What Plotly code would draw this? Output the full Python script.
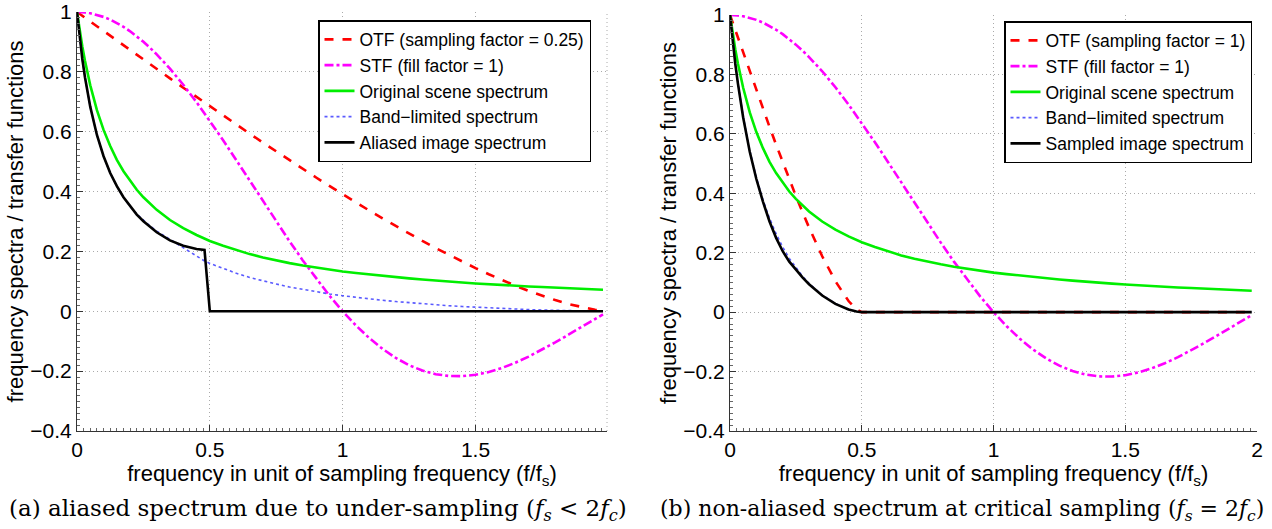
import plotly.graph_objects as go

# frequency in units of the sampling frequency (f/fs)
freq = [0, 0.01, 0.02, 0.03, 0.05, 0.075, 0.1, 0.125, 0.15, 0.175,
        0.2, 0.225, 0.25, 0.275, 0.3, 0.35, 0.4, 0.45, 0.48, 0.5,
        0.55, 0.6, 0.65, 0.7, 0.75, 0.8, 0.85, 0.9, 0.95, 1.0,
        1.05, 1.1, 1.15, 1.2, 1.25, 1.3, 1.35, 1.4, 1.45, 1.5,
        1.55, 1.6, 1.65, 1.7, 1.75, 1.8, 1.85, 1.9, 1.95, 1.98]

# original scene spectrum (same in both panels)
scene = [1, 0.939, 0.885, 0.837, 0.755, 0.672, 0.606, 0.552, 0.506, 0.468,
         0.435, 0.406, 0.381, 0.359, 0.339, 0.305, 0.278, 0.255, 0.243, 0.235,
         0.219, 0.204, 0.191, 0.180, 0.170, 0.161, 0.153, 0.146, 0.139, 0.133,
         0.128, 0.123, 0.118, 0.114, 0.110, 0.106, 0.102, 0.099, 0.096, 0.093,
         0.090, 0.088, 0.085, 0.083, 0.081, 0.079, 0.077, 0.075, 0.073, 0.072]

# STF, fill factor = 1 (same in both panels)
stf = [1, 0.9998, 0.9993, 0.9985, 0.9959, 0.9908, 0.9836, 0.9745, 0.9634, 0.9504,
       0.9355, 0.9188, 0.9003, 0.8801, 0.8584, 0.8106, 0.7568, 0.6987, 0.6618, 0.6366,
       0.5716, 0.5046, 0.4363, 0.3679, 0.3001, 0.2339, 0.1700, 0.1093, 0.0524, 0.0,
       -0.0474, -0.0894, -0.1257, -0.1559, -0.1801, -0.1981, -0.2101, -0.2162, -0.2168, -0.2122,
       -0.2028, -0.1892, -0.1719, -0.1515, -0.1286, -0.1039, -0.0781, -0.0518, -0.0255, -0.0101]

# panel (a): sampling factor 0.25
otf_a = [1, 0.9936, 0.9873, 0.9809, 0.9682, 0.9523, 0.9364, 0.9205, 0.9046, 0.8887,
         0.8729, 0.8571, 0.8413, 0.8255, 0.8097, 0.7783, 0.7471, 0.7160, 0.6974, 0.6850,
         0.6543, 0.6238, 0.5936, 0.5636, 0.5340, 0.5046, 0.4756, 0.4470, 0.4188, 0.3910,
         0.3636, 0.3368, 0.3106, 0.2848, 0.2596, 0.2350, 0.2112, 0.1881, 0.1658, 0.1443,
         0.1237, 0.1041, 0.0855, 0.0681, 0.0521, 0.0374, 0.0243, 0.0133, 0.0048, 0.0012]
band_a = [1, 0.915, 0.843, 0.782, 0.683, 0.589, 0.518, 0.462, 0.418, 0.381,
          0.350, 0.325, 0.304, 0.285, 0.268, 0.240, 0.210, 0.183, 0.168, 0.160,
          0.143, 0.127, 0.113, 0.101, 0.091, 0.081, 0.073, 0.065, 0.058, 0.052,
          0.0465, 0.0414, 0.0367, 0.0325, 0.0286, 0.0249, 0.0215, 0.0186, 0.0159, 0.0134,
          0.0111, 0.0092, 0.0073, 0.0057, 0.0042, 0.0030, 0.0019, 0.0010, 0.0004, 0.0001]
aliased_a = [1, 0.915, 0.843, 0.782, 0.683, 0.589, 0.518, 0.462, 0.418, 0.381,
             0.350, 0.323, 0.301, 0.281, 0.264, 0.237, 0.219, 0.208, 0.205, 0,
             0, 0, 0, 0, 0, 0, 0, 0, 0, 0,
             0, 0, 0, 0, 0, 0, 0, 0, 0, 0,
             0, 0, 0, 0, 0, 0, 0, 0, 0, 0]

# panel (b): sampling factor 1
otf_b = [1, 0.9745, 0.9491, 0.9237, 0.8729, 0.8097, 0.7471, 0.6850, 0.6238, 0.5636,
         0.5046, 0.4470, 0.3910, 0.3368, 0.2848, 0.1881, 0.1041, 0.0374, 0.0095, 0,
         0, 0, 0, 0, 0, 0, 0, 0, 0, 0,
         0, 0, 0, 0, 0, 0, 0, 0, 0, 0,
         0, 0, 0, 0, 0, 0, 0, 0, 0, 0]
band_b = [1, 0.915, 0.840, 0.773, 0.659, 0.544, 0.453, 0.378, 0.316, 0.264,
          0.219, 0.181, 0.149, 0.121, 0.0965, 0.0574, 0.0289, 0.0095, 0.0023, 0,
          0, 0, 0, 0, 0, 0, 0, 0, 0, 0,
          0, 0, 0, 0, 0, 0, 0, 0, 0, 0,
          0, 0, 0, 0, 0, 0, 0, 0, 0, 0]
sampled_b = [1, 0.912, 0.836, 0.770, 0.655, 0.540, 0.448, 0.372, 0.305, 0.250,
             0.205, 0.170, 0.142, 0.117, 0.094, 0.056, 0.028, 0.009, 0.002, 0,
             0, 0, 0, 0, 0, 0, 0, 0, 0, 0,
             0, 0, 0, 0, 0, 0, 0, 0, 0, 0,
             0, 0, 0, 0, 0, 0, 0, 0, 0, 0]

xticks_a = [0, 0.5, 1, 1.5]
xticks_b = [0, 0.5, 1, 1.5, 2]
yticks = [-0.4, -0.2, 0, 0.2, 0.4, 0.6, 0.8, 1]

FONT = "Liberation Sans, Arial, sans-serif"
GRID = "#aaaaaa"

fig = go.Figure()

def add_panel(xa, ya, leg, otf, otf_name, band, last, last_name):
    fig.add_trace(go.Scatter(x=freq, y=otf, name=otf_name, xaxis=xa, yaxis=ya, legend=leg,
                             mode="lines", line=dict(color="#ff0000", width=2.6, dash="dash")))
    fig.add_trace(go.Scatter(x=freq, y=stf, name="STF (fill factor = 1)", xaxis=xa, yaxis=ya, legend=leg,
                             mode="lines", line=dict(color="#ff00ff", width=2.6, dash="dashdot")))
    fig.add_trace(go.Scatter(x=freq, y=scene, name="Original scene spectrum", xaxis=xa, yaxis=ya, legend=leg,
                             mode="lines", line=dict(color="#00ee00", width=2.6)))
    fig.add_trace(go.Scatter(x=freq, y=band, name="Band\u2212limited spectrum", xaxis=xa, yaxis=ya, legend=leg,
                             mode="lines", line=dict(color="#5a5aff", width=1.6, dash="dot")))
    fig.add_trace(go.Scatter(x=freq, y=last, name=last_name, xaxis=xa, yaxis=ya, legend=leg,
                             mode="lines", line=dict(color="black", width=2.6)))

add_panel("x", "y", "legend", otf_a, "OTF (sampling factor = 0.25)", band_a, aliased_a, "Aliased image spectrum")
add_panel("x2", "y2", "legend2", otf_b, "OTF (sampling factor = 1)", band_b, sampled_b, "Sampled image spectrum")

W, H = 1272, 529

def px(x):
    return x / W

def py(y):
    return 1 - y / H

def xax(dom, rng, ticks, anchor):
    return dict(domain=dom, range=rng, tickvals=ticks, anchor=anchor, automargin=False,
                showgrid=True, gridcolor=GRID, griddash="1px,3px", gridwidth=1,
                zeroline=False, showline=True, linecolor="#333333", linewidth=1.2,
                ticks="inside", ticklen=6, tickcolor="#333333",
                minor=dict(ticks="inside", ticklen=3, dtick=0.025, tickcolor="#666666", showgrid=False),
                tickfont=dict(family=FONT, size=21, color="black"),
                title=dict(text="frequency in unit of sampling frequency (f/f<sub>s</sub>)",
                           font=dict(family=FONT, size=22, color="black"), standoff=0))

def yax(dom, anchor):
    return dict(domain=dom, range=[-0.4, 1], tickvals=yticks, anchor=anchor, automargin=False,
                showgrid=True, gridcolor=GRID, griddash="1px,3px", gridwidth=1,
                zeroline=False, showline=True, linecolor="#333333", linewidth=1.2,
                ticks="inside", ticklen=6, tickcolor="#333333",
                minor=dict(ticks="inside", ticklen=3, dtick=0.02, tickcolor="#666666", showgrid=False),
                tickfont=dict(family=FONT, size=21, color="black"),
                title=dict(text="frequency spectra / transfer functions",
                           font=dict(family=FONT, size=22, color="black"), standoff=0))

legend_style = dict(bgcolor="white", bordercolor="black", borderwidth=1.5,
                    font=dict(family=FONT, size=17.5, color="black"),
                    xanchor="right", yanchor="top", tracegroupgap=0)

fig.update_layout(
    template="none",
    width=W, height=H, margin=dict(l=0, r=0, t=0, b=0),
    paper_bgcolor="white", plot_bgcolor="white",
    xaxis=xax([px(77), px(607)], [0, 1.995], xticks_a, "y"),
    yaxis=yax([py(431), py(12)], "x"),
    xaxis2=xax([px(730), px(1257)], [0, 2], xticks_b, "y2"),
    yaxis2=yax([py(431), py(15)], "x2"),
    legend=dict(x=px(591), y=py(20), **legend_style),
    legend2=dict(x=px(1252), y=py(21), **legend_style),
    showlegend=True,
)

# dotted right edge of the left panel (no tick at 2 there)
fig.add_shape(type="line", xref="x domain", yref="y domain", x0=1, x1=1, y0=0, y1=1,
              line=dict(color=GRID, width=1, dash="1px,3px"))

CAP = "DejaVu Serif, serif"
fig.add_annotation(xref="paper", yref="paper", x=px(318), y=py(510), showarrow=False,
                   xanchor="center", yanchor="middle",
                   text="(a) aliased spectrum due to under-sampling (<i>f<sub>s</sub></i> &lt; 2<i>f<sub>c</sub></i>)",
                   font=dict(family=CAP, size=23, color="black"))
fig.add_annotation(xref="paper", yref="paper", x=px(962), y=py(510), showarrow=False,
                   xanchor="center", yanchor="middle",
                   text="(b) non-aliased spectrum at critical sampling (<i>f<sub>s</sub></i> = 2<i>f<sub>c</sub></i>)",
                   font=dict(family=CAP, size=22, color="black"))

# the page body has a default 8px margin; drop it so the figure fills the window
fig.write_html("out.html", config={"displayModeBar": False},
               post_script="document.body.style.margin = '0';")
